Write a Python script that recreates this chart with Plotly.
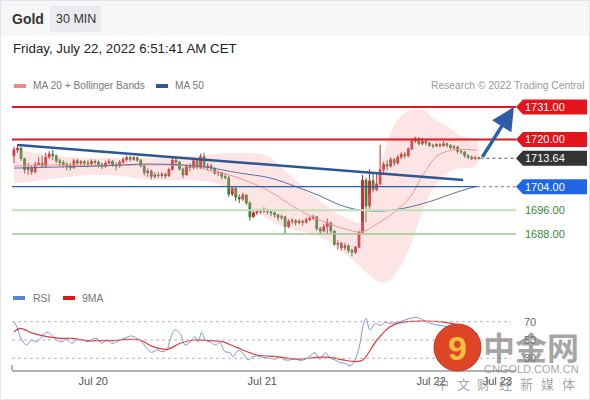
import plotly.graph_objects as go

# ---- data (x = 30-min bar index) ----
opens = [1714.5, 1716.5, 1717.0, 1713.5, 1709.8, 1710.5, 1709.0, 1711.5, 1712.0, 1711.0,
         1714.0, 1715.0, 1714.5, 1712.8, 1712.2, 1711.5, 1711.0, 1710.5, 1712.8, 1712.0,
         1712.5, 1712.0, 1711.8, 1712.6, 1712.3, 1711.5, 1710.8, 1712.0, 1712.6, 1711.5,
         1711.0, 1712.3, 1713.2, 1713.8, 1713.3, 1713.8, 1713.0, 1711.0, 1708.8, 1709.3,
         1707.5, 1708.0, 1707.8, 1708.2, 1707.6, 1709.8, 1713.0, 1712.3, 1710.0, 1708.0,
         1710.8, 1710.5, 1712.8, 1710.5, 1714.2, 1710.8, 1711.0, 1710.2, 1708.6, 1708.8,
         1707.5, 1707.0, 1701.5, 1703.5, 1700.5, 1699.8, 1701.2, 1698.5, 1693.8, 1695.2,
         1696.0, 1695.5, 1696.3, 1695.5, 1695.2, 1694.5, 1693.6, 1693.8, 1690.5, 1692.3,
         1692.5, 1691.8, 1692.3, 1692.0, 1692.8, 1693.3, 1693.8, 1689.8, 1689.0, 1690.5,
         1691.8, 1689.0, 1684.5, 1684.8, 1683.3, 1684.0, 1682.4, 1681.8, 1683.5, 1688.5,
         1706.2, 1697.5, 1706.0, 1703.0, 1705.0, 1709.8, 1711.5, 1711.0, 1713.2, 1712.0,
         1714.0, 1715.0, 1714.5, 1716.8, 1719.5, 1720.3, 1718.5, 1719.5, 1718.8, 1718.0,
         1717.8, 1718.3, 1717.9, 1718.6, 1718.0, 1717.2, 1717.5, 1716.0, 1715.8, 1714.6,
         1714.0, 1713.5, 1713.8]
closes = [1716.5, 1717.0, 1713.5, 1709.8, 1710.5, 1709.0, 1711.5, 1712.0, 1711.0, 1714.0,
          1715.0, 1714.5, 1712.8, 1712.2, 1711.5, 1711.0, 1710.5, 1712.8, 1712.0, 1712.5,
          1712.0, 1711.8, 1712.6, 1712.3, 1711.5, 1710.8, 1712.0, 1712.6, 1711.5, 1711.0,
          1712.3, 1713.2, 1713.8, 1713.3, 1713.8, 1713.0, 1711.0, 1708.8, 1709.3, 1707.5,
          1708.0, 1707.8, 1708.2, 1707.6, 1709.8, 1713.0, 1712.3, 1710.0, 1708.0, 1710.8,
          1710.5, 1712.8, 1710.5, 1714.2, 1710.8, 1711.0, 1710.2, 1708.6, 1708.8, 1707.5,
          1707.0, 1701.5, 1703.5, 1700.5, 1699.8, 1701.2, 1698.5, 1693.8, 1695.2, 1696.0,
          1695.5, 1696.3, 1695.5, 1695.2, 1694.5, 1693.6, 1693.8, 1690.5, 1692.3, 1692.5,
          1691.8, 1692.3, 1692.0, 1692.8, 1693.3, 1693.8, 1689.8, 1689.0, 1690.5, 1691.8,
          1689.0, 1684.5, 1684.8, 1683.3, 1684.0, 1682.4, 1681.8, 1683.5, 1688.5, 1706.2,
          1697.5, 1706.0, 1703.0, 1705.0, 1709.8, 1711.5, 1711.0, 1713.2, 1712.0, 1714.0,
          1715.0, 1714.5, 1716.8, 1719.5, 1720.3, 1718.5, 1719.5, 1718.8, 1718.0, 1717.8,
          1718.3, 1717.9, 1718.6, 1718.0, 1717.2, 1717.5, 1716.0, 1715.8, 1714.6, 1714.0,
          1713.5, 1713.8, 1713.64]
highs = [1717.5, 1718.5, 1717.5, 1713.8, 1712.0, 1711.2, 1712.5, 1714.0, 1714.5, 1715.5,
         1716.0, 1716.5, 1714.8, 1713.5, 1713.0, 1712.3, 1712.0, 1713.5, 1713.5, 1713.0,
         1713.0, 1713.0, 1713.3, 1713.2, 1713.0, 1712.2, 1712.6, 1713.4, 1713.0, 1712.3,
         1713.0, 1714.0, 1714.6, 1714.5, 1714.3, 1714.2, 1713.5, 1711.3, 1710.2, 1709.8,
         1708.8, 1709.0, 1709.0, 1708.8, 1710.5, 1714.3, 1713.8, 1712.8, 1710.5, 1711.5,
         1712.0, 1713.5, 1713.5, 1715.2, 1715.5, 1712.0, 1711.8, 1710.6, 1709.5, 1709.0,
         1708.5, 1707.8, 1704.2, 1703.8, 1701.5, 1702.0, 1701.4, 1699.0, 1696.0, 1696.5,
         1696.5, 1697.0, 1696.5, 1696.0, 1695.6, 1694.8, 1694.5, 1694.0, 1693.0, 1693.3,
         1693.0, 1693.0, 1692.8, 1693.5, 1694.0, 1694.5, 1694.0, 1690.5, 1691.5, 1693.2,
         1692.0, 1689.2, 1685.8, 1685.3, 1685.0, 1684.5, 1683.0, 1684.0, 1689.0, 1708.0,
         1707.0, 1710.0, 1708.5, 1708.8, 1718.2, 1712.5, 1713.0, 1714.0, 1713.8, 1714.8,
         1715.7, 1715.8, 1717.3, 1720.3, 1721.0, 1720.8, 1720.5, 1720.0, 1719.2, 1718.6,
         1718.8, 1718.8, 1719.5, 1719.0, 1718.4, 1718.2, 1717.8, 1716.8, 1716.0, 1715.0,
         1714.6, 1714.3, 1714.2]
lows = [1712.0, 1715.5, 1712.8, 1708.5, 1708.0, 1708.0, 1708.5, 1711.0, 1710.5, 1710.5,
        1713.5, 1713.0, 1712.0, 1711.0, 1710.5, 1709.5, 1709.5, 1710.0, 1711.5, 1711.2,
        1711.0, 1710.5, 1711.3, 1711.5, 1710.5, 1710.0, 1710.5, 1711.5, 1710.8, 1709.5,
        1710.5, 1711.8, 1712.5, 1712.5, 1712.8, 1712.4, 1710.5, 1707.8, 1707.3, 1706.5,
        1706.8, 1706.9, 1707.0, 1706.8, 1707.5, 1709.5, 1711.0, 1709.5, 1707.0, 1707.8,
        1709.2, 1709.8, 1710.0, 1710.0, 1710.2, 1709.5, 1709.5, 1708.0, 1707.6, 1706.5,
        1706.5, 1700.5, 1700.8, 1699.2, 1698.5, 1699.2, 1697.8, 1692.5, 1693.5, 1694.5,
        1694.8, 1695.3, 1694.6, 1694.0, 1693.5, 1692.5, 1692.8, 1688.0, 1690.0, 1691.2,
        1690.8, 1691.3, 1690.8, 1691.5, 1692.3, 1692.8, 1689.0, 1687.8, 1688.5, 1688.0,
        1688.3, 1684.0, 1682.8, 1682.3, 1682.5, 1681.5, 1680.4, 1681.2, 1683.3, 1688.3,
        1692.0, 1696.5, 1702.0, 1702.5, 1704.5, 1708.5, 1709.5, 1710.5, 1711.0, 1711.5,
        1713.4, 1713.5, 1714.0, 1716.5, 1718.8, 1718.0, 1718.2, 1718.0, 1717.5, 1717.0,
        1717.5, 1717.2, 1717.5, 1717.3, 1716.6, 1716.5, 1715.2, 1715.0, 1713.8, 1713.3,
        1713.0, 1713.1, 1713.2]
bar_index = list(range(len(closes)))

# Bollinger bands / moving averages (sampled at bar positions)
bb_upper_x = [0, 4.5, 13.1, 21.6, 30.1, 38.6, 52.8, 62.2, 71.9, 78.4, 84.9, 92.6, 96.9, 98.9,
              100.3, 104.0, 107.7, 111.6, 116.2, 119.0, 123.0, 127.6, 131.5]
bb_upper = [1716.4, 1715.8, 1714.4, 1713.7, 1713.7, 1713.7, 1714.7, 1715.4, 1714.4, 1708.0,
            1701.2, 1694.4, 1692.1, 1692.1, 1699.5, 1710.7, 1724.2, 1729.3, 1730.0, 1727.3,
            1724.6, 1720.8, 1719.8]
bb_lower_x = [0, 4.5, 13.1, 21.6, 30.1, 38.6, 52.8, 60.5, 67.0, 76.4, 86.9, 96.3, 100.3, 104.0,
              106.8, 112.5, 116.2, 120.2, 124.7, 131.5]
bb_lower = [1705.3, 1705.6, 1707.0, 1708.0, 1707.6, 1706.3, 1706.0, 1703.6, 1697.1, 1690.4,
            1687.0, 1679.2, 1674.8, 1671.7, 1672.4, 1683.6, 1696.1, 1705.3, 1709.7, 1711.4]
ma20_x = [0, 13.1, 24.4, 38.6, 50.0, 54.8, 62.2, 71.9, 80.4, 86.9, 94.0, 98.9, 103.1, 107.4,
          112.5, 116.2, 120.2, 124.4, 131.5]
ma20 = [1711.0, 1711.4, 1711.2, 1711.4, 1711.0, 1709.7, 1707.6, 1702.9, 1696.5, 1692.7,
        1689.7, 1688.7, 1691.4, 1694.8, 1700.5, 1708.0, 1714.4, 1716.4, 1716.4]
ma50_x = [0, 13.1, 24.4, 38.6, 52.8, 64.2, 72.7, 80.4, 86.9, 92.6, 98.3, 105.4, 111.1, 118.2,
          125.9, 131.5]
ma50 = [1710.3, 1710.7, 1711.0, 1711.7, 1710.9, 1708.6, 1707.0, 1703.9, 1700.9, 1697.8,
        1696.1, 1695.8, 1696.8, 1699.0, 1702.2, 1704.2]

trend_x = [1.1, 127.6]
trend_y = [1718.1, 1706.3]
arrow_x = [132.8, 142.0]
arrow_y = [1713.6, 1731.0]

# RSI panel
rsi_x = [0, 0.8, 2.2, 3.6, 5.0, 6.4, 7.9, 9.3, 10.7, 12.1, 13.6, 15.0, 16.4, 17.8, 19.2, 20.7,
         22.1, 23.5, 24.9, 26.3, 27.8, 29.2, 30.6, 32.0, 33.4, 34.9, 36.3, 37.7, 39.1, 40.5,
         42.0, 43.4, 44.3, 45.7, 47.2, 48.6, 50.0, 51.4, 52.3, 53.3, 54.3, 55.7, 57.1, 58.5,
         59.9, 61.4, 62.2, 63.6, 65.1, 66.5, 67.9, 69.3, 70.7, 72.7, 74.1, 75.6, 77.0, 78.4,
         79.8, 81.3, 82.7, 84.1, 85.5, 86.9, 88.4, 89.8, 91.2, 92.6, 94.0, 95.5, 96.3, 97.4,
         98.3, 99.1, 100.0, 101.1, 102.6, 104.0, 105.4, 106.8, 109.7, 112.5, 114.5, 116.2,
         118.2, 120.2, 122.4, 125.3, 128.1, 131.8]
rsi = [70, 64.5, 50, 44.5, 50, 48, 53.6, 58.4, 55.5, 50, 48, 50.7, 46.4, 50, 50.7, 48,
       50.7, 51.8, 46.4, 50, 46.4, 48, 50.7, 52.9, 54.4, 51.8, 48, 40.9, 36.5, 39,
       37.3, 39, 50, 61, 57, 44.5, 48, 53.6, 48, 58.4, 50, 48, 44.5, 47,
       37.3, 36.2, 31.8, 38.4, 35.5, 28.2, 31.8, 32.5, 31, 30, 29, 31, 28.2, 28.2,
       30, 27.5, 29, 32.5, 36.2, 29, 36.2, 30, 28.2, 25.3, 24.5, 21.6, 24.5, 33.6,
       46.4, 64.5, 73.6, 61, 68, 66, 69, 68.3, 70, 73.7, 74.7, 71.8,
       68.3, 66.4, 65, 62, 60, 56]
ma9_x = [0, 1.7, 5.4, 9.4, 13.1, 16.8, 20.7, 24.4, 28.1, 32.1, 35.8, 39.5, 43.5, 47.2, 51.4,
         55.7, 59.4, 63.4, 69.0, 74.7, 80.4, 86.1, 89.8, 93.5, 96.9, 99.1, 103.1, 106.8, 109.7,
         115.3, 121.0, 125.9, 131.5]
ma9 = [59, 62.7, 57.3, 53.6, 51.8, 51.8, 49.3, 49.3, 49.3, 50.7, 50, 42.7, 39.8, 46.4, 50,
       49.3, 48, 41.6, 33.6, 31.8, 29, 31, 31, 28.2, 26.4, 28.2, 50, 64.5, 69,
       70.7, 70, 66.4, 57]
rsi_levels = [70, 50, 30]

day_ticks = [22.5, 70.5, 118.5, 137.3]
day_labels = ["Jul 20", "Jul 21", "Jul 22", "Jul 23"]

tag_levels = [1731.00, 1720.00, 1713.64, 1704.00]
tag_colors = ["#e5141c", "#e5141c", "#333333", "#1f66e5"]
green_levels = [1696.00, 1688.00]

slogan = ["中", "文", "财", "经", "新", "媒", "体"]

W, H = 590, 400
X_MIN, X_MAX = -0.57, 142.6
FONT = "Liberation Sans, Arial, sans-serif"
CJK = "Noto Sans CJK SC"
WM = "rgba(125,125,125,0.7)"


def px(x):
    return x / W


def py(y):
    return 1 - y / H


fig = go.Figure()

# bollinger band fill
fig.add_trace(go.Scatter(
    x=bb_upper_x + bb_lower_x[::-1], y=bb_upper + bb_lower[::-1],
    fill="toself", fillcolor="rgba(250,160,160,0.28)", line=dict(width=0),
    mode="lines", line_shape="spline", hoverinfo="skip"))
fig.add_trace(go.Scatter(x=ma20_x, y=ma20, mode="lines", line=dict(color="#f29494", width=1, shape="spline")))
fig.add_trace(go.Scatter(x=ma50_x, y=ma50, mode="lines", line=dict(color="#5573a8", width=1, shape="spline")))

fig.add_trace(go.Candlestick(
    x=bar_index, open=opens, high=highs, low=lows, close=closes,
    increasing=dict(line=dict(color="#c8222a", width=1), fillcolor="#d8262d"),
    decreasing=dict(line=dict(color="#2f7a2c", width=1), fillcolor="#3d8b38"),
    whiskerwidth=0))

fig.add_trace(go.Scatter(x=trend_x, y=trend_y, mode="lines", line=dict(color="#2b5797", width=2.5)))

# RSI panel
fig.add_trace(go.Scatter(x=rsi_x, y=rsi, mode="lines", line=dict(color="#7b96e0", width=1, shape="spline"),
                         xaxis="x2", yaxis="y2"))
fig.add_trace(go.Scatter(x=ma9_x, y=ma9, mode="lines", line=dict(color="#e03a3a", width=1.2, shape="spline"),
                         xaxis="x2", yaxis="y2"))

shapes = []
# page background pieces
shapes.append(dict(type="rect", xref="paper", yref="paper", x0=0, x1=1, y0=py(36), y1=1,
                   fillcolor="#f6f7f8", line_width=0, layer="below"))
shapes.append(dict(type="rect", xref="paper", yref="paper", x0=px(0.5), x1=px(589.5), y0=py(399.5), y1=py(0.5),
                   line=dict(color="#e3e6e8", width=1), layer="below"))
shapes.append(dict(type="rect", xref="paper", yref="paper", x0=px(50), x1=px(101), y0=py(32), y1=py(6),
                   fillcolor="#e9ebee", line_width=0, layer="below"))

# horizontal levels
shapes.append(dict(type="line", xref="x domain", yref="y", x0=0, x1=1, y0=1731, y1=1731, line=dict(color="#e3161e", width=2)))
shapes.append(dict(type="line", xref="x domain", yref="y", x0=0, x1=1, y0=1720, y1=1720, line=dict(color="#e3161e", width=2)))
shapes.append(dict(type="line", xref="x domain", yref="y", x0=0, x1=1, y0=1696, y1=1696, line=dict(color="#bfe0b8", width=2)))
shapes.append(dict(type="line", xref="x domain", yref="y", x0=0, x1=1, y0=1688, y1=1688, line=dict(color="#95cc8f", width=1.5)))
shapes.append(dict(type="line", xref="x", yref="y", x0=X_MIN, x1=ma50_x[-1], y0=1704, y1=1704, line=dict(color="#2a5cab", width=1.2)))
shapes.append(dict(type="line", xref="x", yref="y", x0=ma50_x[-1], x1=X_MAX, y0=1704, y1=1704, line=dict(color="#777", width=1, dash="dot")))
shapes.append(dict(type="line", xref="x", yref="y", x0=bar_index[-1] + 0.5, x1=X_MAX, y0=closes[-1], y1=closes[-1],
                   line=dict(color="#555", width=1, dash="dot")))

# right-hand price tags
half = 7.5 / 2.953
for lvl, col in zip(tag_levels, tag_colors):
    path = (f"M {px(516)} {lvl} L {px(523)} {lvl + half} L {px(587)} {lvl + half} "
            f"L {px(587)} {lvl - half} L {px(523)} {lvl - half} Z")
    shapes.append(dict(type="path", xref="paper", yref="y", path=path, fillcolor=col, line_width=0))

# RSI dotted levels
for lvl in rsi_levels:
    shapes.append(dict(type="line", xref="x2 domain", yref="y2", x0=0, x1=0.99, y0=lvl, y1=lvl,
                       line=dict(color="#b5b5b5", width=1, dash="dot")))
shapes.append(dict(type="line", xref="paper", yref="paper", x0=px(12), x1=px(12), y0=py(370), y1=py(365),
                   line=dict(color="#b0b0b0", width=2)))

# legend swatches
shapes.append(dict(type="rect", xref="paper", yref="paper", x0=px(14), x1=px(26), y0=py(88), y1=py(84), fillcolor="#f08a8a", line_width=0))
shapes.append(dict(type="rect", xref="paper", yref="paper", x0=px(156), x1=px(168), y0=py(88), y1=py(84), fillcolor="#2e5795", line_width=0))
shapes.append(dict(type="rect", xref="paper", yref="paper", x0=px(13), x1=px(25), y0=py(300), y1=py(296), fillcolor="#5b84d8", line_width=0))
shapes.append(dict(type="rect", xref="paper", yref="paper", x0=px(63), x1=px(75), y0=py(300), y1=py(296), fillcolor="#e01818", line_width=0))

# watermark logo circle
shapes.append(dict(type="circle", xref="paper", yref="paper", x0=px(434), x1=px(481), y0=py(371), y1=py(324),
                   fillcolor="#de4526", line=dict(color="#c7361c", width=1)))

ann = []


def text(x, y, s, size=11, color="#777", anchor="left", family=FONT):
    ann.append(dict(x=px(x), y=py(y), xref="paper", yref="paper", text=s, showarrow=False,
                    xanchor=anchor, yanchor="middle", borderpad=0,
                    font=dict(size=size, color=color, family=family)))


text(11, 19, "<b>Gold</b>", 14, "#333")
text(75.5, 19, "30 MIN", 12.5, "#333", "center")
text(12, 48, "Friday, July 22, 2022 6:51:41 AM CET", 13.3, "#222")
text(32, 86, "MA 20 + Bollinger Bands", 10.2, "#777")
text(174, 86, "MA 50", 10.2, "#777")
text(586, 86, "Research © 2022 Trading Central", 10.3, "#9a9a9a", "right")
text(32, 298, "RSI", 10.5, "#777")
text(81, 298, "9MA", 10.5, "#777")

for lvl in tag_levels:
    ann.append(dict(x=px(523), y=lvl, xref="paper", yref="y", text=f"{lvl:.2f}", showarrow=False,
                    xanchor="left", yanchor="middle", font=dict(size=11, color="white", family=FONT)))
for lvl in green_levels:
    ann.append(dict(x=px(523), y=lvl, xref="paper", yref="y", text=f"{lvl:.2f}", showarrow=False,
                    xanchor="left", yanchor="middle", font=dict(size=11, color="#2f8a2f", family=FONT)))
for lvl in rsi_levels:
    ann.append(dict(x=px(522), y=lvl, xref="paper", yref="y2", text=str(lvl), showarrow=False,
                    xanchor="left", yanchor="middle", font=dict(size=11, color="#666", family=FONT)))

# forecast arrow
ann.append(dict(x=arrow_x[1], y=arrow_y[1], ax=arrow_x[0], ay=arrow_y[0], xref="x", yref="y",
                axref="x", ayref="y", text="", showarrow=True, arrowhead=2, arrowsize=1.3,
                arrowwidth=3.5, arrowcolor="#2d5fa6"))

# watermark
text(457.5, 348, "<b>9</b>", 34, "#f6c13a", "center")
text(531, 346, "<b>中金网</b>", 32, WM, "center", CJK)
text(531, 369, "CNGOLD.COM.CN", 11, WM, "center")
for k, ch in enumerate(slogan):
    text(442 + 21 * k, 383, ch, 13, WM, "center", CJK)

fig.update_layout(
    width=W, height=H, margin=dict(l=0, r=0, t=0, b=0),
    paper_bgcolor="white", plot_bgcolor="white", showlegend=False,
    font=dict(family=FONT),
    shapes=shapes, annotations=ann,
    xaxis=dict(domain=[px(12), px(516)], range=[X_MIN, X_MAX], visible=False,
               rangeslider=dict(visible=False), anchor="y"),
    yaxis=dict(domain=[py(285), py(97)], range=[1670.7, 1734.4], visible=False),
    xaxis2=dict(domain=[px(12), px(516)], range=[X_MIN, X_MAX], matches="x", anchor="y2",
                showline=True, linecolor="#b0b0b0", linewidth=2, showgrid=False, zeroline=False,
                tickmode="array", tickvals=day_ticks, ticktext=day_labels, ticks="",
                tickfont=dict(size=11, color="#555")),
    yaxis2=dict(domain=[py(370), py(310)], range=[17.2, 82.8], visible=False),
)

fig.write_html("out.html", config={"displayModeBar": False},
               post_script="document.body.style.margin='0';")
